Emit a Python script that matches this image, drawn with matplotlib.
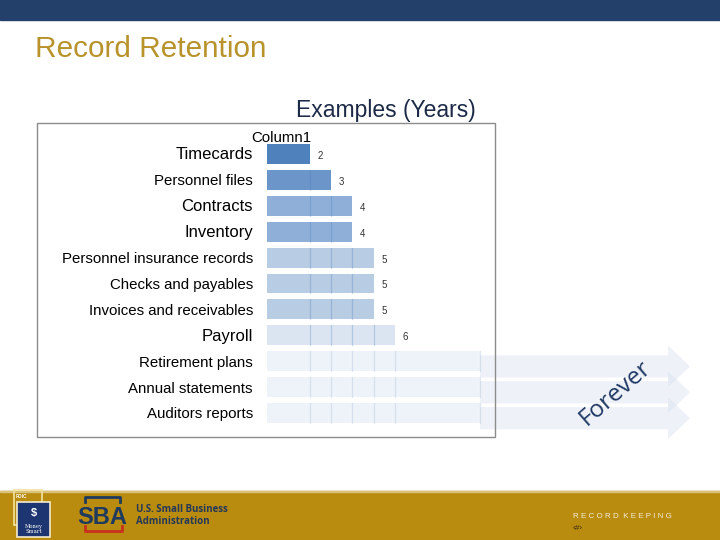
import numpy as np
import matplotlib
matplotlib.use("Agg")
import matplotlib.pyplot as plt
from matplotlib.patches import Rectangle, Polygon

# ---------------- data ----------------
record_types = ["Timecards", "Personnel files", "Contracts", "Inventory",
                "Personnel insurance records", "Checks and payables",
                "Invoices and receivables", "Payroll", "Retirement plans",
                "Annual statements", "Auditors reports"]
years = [2, 3, 4, 4, 5, 5, 5, 6, None, None, None]   # None = forever
wide_label = [True, False, True, True, False, False, False, True, False, False, False]
bar_colors = ["#4f81bd", "#6c95c9", "#8fafd9", "#8fafd9", "#b8cce4", "#b8cce4",
              "#b8cce4", "#dbe5f1", "#eef3f9", "#eef3f9", "#eef3f9"]
grid_years = [2, 3, 4, 5, 6]
forever_len = 10      # bar drawn up to the arrow start
arrow_head_start = 18.83
arrow_tip = 19.86

W, H = 720, 540
navy = "#22406a"
gold = "#b98b0e"
font = "Liberation Sans"


def fx(x):
    return x / W


def fy(y):
    return 1 - y / H


fig = plt.figure(figsize=(7.2, 5.4), dpi=100)

# top banner and footer band
fig.patches.append(Rectangle((0, fy(20)), 1, 20 / H, transform=fig.transFigure,
                             color=navy, zorder=0))
fig.patches.append(Rectangle((0, 0), 1, 49 / H, transform=fig.transFigure,
                             color=gold, zorder=0))
fig.patches.append(Rectangle((0, fy(492)), 1, 1.5 / H, transform=fig.transFigure,
                             color="#d9c27a", zorder=0))

# titles
fig.text(fx(35), fy(57), "Record Retention", fontsize=21.4, color="#b8922a",
         family=font, va="baseline", ha="left")
fig.text(fx(386), fy(117), "Examples (Years)", fontsize=16.5, color="#1c2a48",
         family=font, va="baseline", ha="center")

# chart box
fig.patches.append(Rectangle((fx(37), fy(437)), 458 / W, 314 / H, transform=fig.transFigure,
                             fill=False, edgecolor="#8c8c8c", lw=1, zorder=5))

# ---------------- bars ----------------
n = len(record_types)
ax = fig.add_axes([fx(267), fy(154 + 25.9 * (n - 0.5)), 228 / W, 25.9 * n / H])
ax.set_xlim(0, 228 / 21.3)
ax.set_ylim(n - 0.5, -0.5)
ax.axis("off")

bh = 0.77
for i, (lab, v) in enumerate(zip(record_types, years)):
    length = forever_len if v is None else v
    ax.barh(i, length, height=bh, color=bar_colors[i], zorder=2)
    lines = [g for g in grid_years if g < length]
    if v is None:
        lines = lines + [forever_len]
        gcol, galpha = "#a9bcd8", 0.35
    else:
        gcol, galpha = "#4f81bd", 0.3
    for g in lines:
        ax.plot([g, g], [i - bh / 2, i + bh / 2], color=gcol, alpha=galpha, lw=0.9, zorder=3)

    ax.text(-0.66, i + 0.21, lab, ha="right", va="baseline", family=font,
            fontsize=12 if wide_label[i] else 10.8, color="black", clip_on=False)
    if v is not None:
        ax.text(length + 0.36, i + 0.19, str(v), ha="left", va="baseline",
                family=font, fontsize=7, color="#333333")
    else:
        yc = i + 0.2
        arrow = Polygon([[forever_len, yc - 0.43], [arrow_head_start, yc - 0.43],
                         [arrow_head_start, yc - 0.81], [arrow_tip, yc],
                         [arrow_head_start, yc + 0.81], [arrow_head_start, yc + 0.43],
                         [forever_len, yc + 0.43]],
                        closed=True, facecolor="#d5e0ef", alpha=0.4, edgecolor="none",
                        clip_on=False, zorder=1)
        ax.add_patch(arrow)

ax.text(0.66, -0.475, "Column1", ha="center", va="baseline", family=font,
        fontsize=10.8, color="black", clip_on=False)

fig.text(fx(615), fy(393), "Forever", rotation=41, rotation_mode="anchor",
         ha="center", va="center", fontsize=17.5, color="#1f3864", family="Open Sans")

# ---------------- footer ----------------
# FDIC money smart badge
fig.patches.append(Rectangle((fx(14), fy(525)), 28 / W, 35 / H, transform=fig.transFigure,
                             fill=False, edgecolor="#f3e3a0", lw=1.2, zorder=2))
fig.patches.append(Rectangle((fx(17), fy(537)), 33 / W, 35 / H, transform=fig.transFigure,
                             facecolor="#1d3570", edgecolor="#f5ecd0", lw=1.2, zorder=3))
fig.text(fx(16), fy(498), "FDIC", fontsize=3.5, color="white", family=font,
         weight="bold", va="baseline")
fig.text(fx(33.5), fy(513), "$", fontsize=8, color="white", family=font,
         weight="bold", ha="center", va="center", zorder=4)
fig.text(fx(33.5), fy(529), "Money\nSmart", fontsize=3.8, color="white", family="DejaVu Serif",
         ha="center", va="center", linespacing=0.9, zorder=4)

# SBA logo
fig.text(fx(77), fy(524), "SBA", fontsize=17, color="#1f3a5f", family=font,
         weight="bold", va="baseline")
fig.lines.append(plt.Line2D([fx(85), fx(85), fx(120), fx(120)],
                            [fy(502), fy(497), fy(497), fy(502)],
                            transform=fig.transFigure, color="#1f3a5f", lw=2))
fig.lines.append(plt.Line2D([fx(85), fx(85), fx(122), fx(122)],
                            [fy(526), fy(531), fy(531), fy(526)],
                            transform=fig.transFigure, color="#c8321e", lw=2))
fig.text(fx(136), fy(512), "U.S. Small Business", fontsize=7, color="#24385a",
         family="Open Sans", weight="bold", va="baseline")
fig.text(fx(136), fy(524), "Administration", fontsize=7, color="#24385a",
         family="Open Sans", weight="bold", va="baseline")

fig.text(fx(573), fy(518), "R E C O R D  K E E P I N G", fontsize=5.8, color="#f5efd8",
         family=font, va="baseline")
fig.text(fx(573), fy(530), "‹#›", fontsize=6, color="#3a2a10", family=font, va="baseline")

fig.savefig("out.png", dpi=100)
